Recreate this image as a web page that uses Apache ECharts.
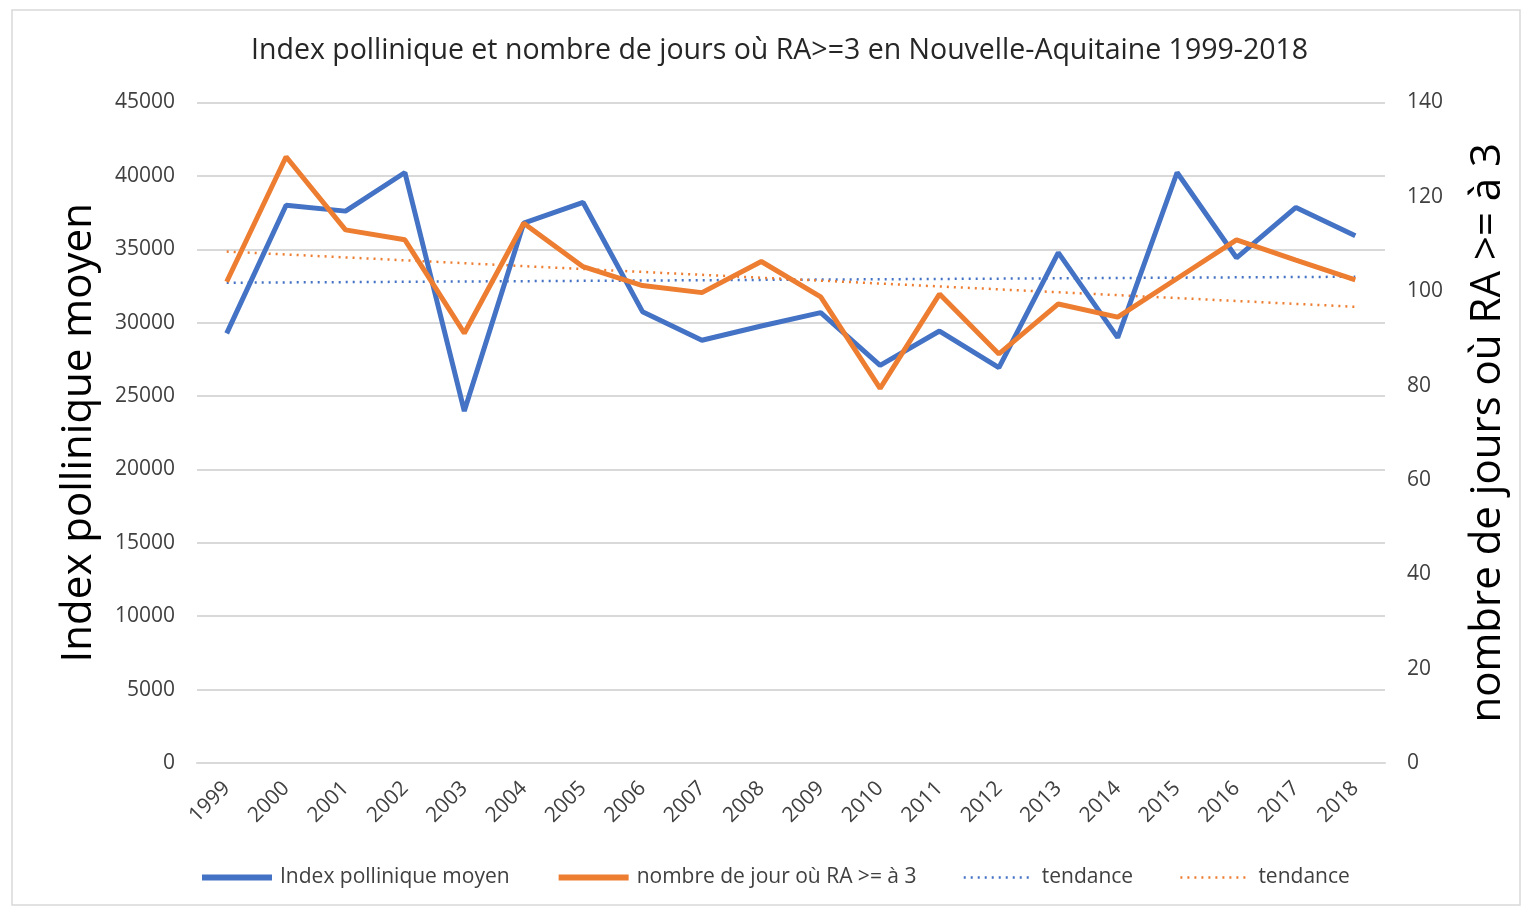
<!DOCTYPE html>
<html>
<head>
<meta charset="utf-8">
<script src="https://cdn.jsdelivr.net/npm/echarts@6/dist/echarts.min.js"></script>
<style>
  html, body { margin: 0; padding: 0; background: #fff; }
  #main { width: 1530px; height: 909px; }
</style>
</head>
<body>
<div id="main"></div>
<script>
// years on the x axis
const years = ['1999', '2000', '2001', '2002', '2003', '2004', '2005', '2006', '2007', '2008',
  '2009', '2010', '2011', '2012', '2013', '2014', '2015', '2016', '2017', '2018']
// Index pollinique moyen (left axis)
const indexPollinique = [29270, 38000, 37600, 40230, 23980, 36780, 38190, 30750, 28800, 29770,
  30680, 27090, 29430, 26930, 34770, 28980, 40230, 34420, 37850, 35920]
// nombre de jours où RA >= 3 (right axis)
const nbJours = [102.0, 128.5, 113.0, 110.9, 91.1, 114.4, 105.2, 101.2, 99.7, 106.3,
  98.8, 79.4, 99.4, 86.7, 97.3, 94.5, 102.7, 110.9, 106.6, 102.4]
// trend lines, read at both ends
const tendanceIndex = [32720, 33130]
const tendanceJours = [108.4, 96.7]

const font = 'Open Sans'

function ends(pair) {
  return years.map((y, i) => (i === 0 ? pair[0] : i === years.length - 1 ? pair[1] : null))
}

const chart = echarts.init(document.getElementById('main'))

const option = {
  animation: false,
  textStyle: { fontFamily: font },
  title: {
    text: 'Index pollinique et nombre de jours où RA>=3 en Nouvelle-Aquitaine 1999-2018',
    left: 246,
    top: 31,
    textStyle: { fontFamily: font, fontSize: 28.5, fontWeight: 'normal', color: '#262626' }
  },
  graphic: [{
    type: 'rect',
    shape: { x: 12, y: 10, width: 1508, height: 895 },
    style: { fill: 'none', stroke: '#d9d9d9', lineWidth: 1.5 },
    silent: true
  }],
  legend: {
    top: 862,
    left: 194,
    itemWidth: 70,
    itemHeight: 6,
    itemGap: 46,
    itemStyle: { opacity: 0 },
    textStyle: { fontFamily: font, fontSize: 21, color: '#404040', padding: [0, 0, 0, 3] },
    data: [
      { name: 'Index pollinique moyen', lineStyle: { width: 6 } },
      { name: 'nombre de jour où RA >= à 3', lineStyle: { width: 6 } },
      { name: 'tendance', lineStyle: { width: 2.5 } },
      { name: 'tendance ', lineStyle: { width: 2.5 } }
    ]
  },
  grid: { left: 197, right: 145, top: 102.5, bottom: 146 },
  xAxis: {
    type: 'category',
    data: years,
    boundaryGap: true,
    axisLine: { lineStyle: { color: '#d9d9d9', width: 2 } },
    axisTick: { show: false },
    axisLabel: { rotate: 45, fontSize: 21, color: '#404040', margin: 22, interval: 0 }
  },
  yAxis: [
    {
      type: 'value',
      min: 0,
      max: 45000,
      interval: 5000,
      name: 'Index pollinique moyen',
      nameLocation: 'middle',
      nameRotate: 90,
      nameGap: 97,
      nameTextStyle: { fontSize: 42, color: '#000', fontFamily: font },
      axisLine: { show: false },
      axisTick: { show: false },
      axisLabel: { fontSize: 21, color: '#404040', margin: 22, formatter: v => String(v) },
      splitLine: { lineStyle: { color: '#d9d9d9', width: 2 } }
    },
    {
      type: 'value',
      min: 0,
      max: 140,
      interval: 20,
      name: 'nombre de jours où RA >= à 3',
      nameLocation: 'middle',
      nameRotate: 90,
      nameGap: 82,
      nameTextStyle: { fontSize: 42, color: '#000', fontFamily: font },
      axisLine: { show: false },
      axisTick: { show: false },
      axisLabel: { fontSize: 21, color: '#404040', margin: 22 },
      splitLine: { show: false }
    }
  ],
  series: [
    {
      name: 'Index pollinique moyen',
      type: 'line',
      yAxisIndex: 0,
      data: indexPollinique,
      symbol: 'none',
      lineStyle: { color: '#4472C4', width: 5 },
      itemStyle: { color: '#4472C4' },
      z: 3
    },
    {
      name: 'nombre de jour où RA >= à 3',
      type: 'line',
      yAxisIndex: 1,
      data: nbJours,
      symbol: 'none',
      lineStyle: { color: '#ED7D31', width: 5 },
      itemStyle: { color: '#ED7D31' },
      z: 4
    },
    {
      name: 'tendance',
      type: 'line',
      yAxisIndex: 0,
      data: ends(tendanceIndex),
      connectNulls: true,
      symbol: 'none',
      lineStyle: { color: '#4472C4', width: 2.5, type: [2, 5] },
      itemStyle: { color: '#4472C4' },
      z: 2
    },
    {
      name: 'tendance ',
      type: 'line',
      yAxisIndex: 1,
      data: ends(tendanceJours),
      connectNulls: true,
      symbol: 'none',
      lineStyle: { color: '#ED7D31', width: 2.5, type: [2, 5] },
      itemStyle: { color: '#ED7D31' },
      z: 2
    }
  ]
}

option && chart.setOption(option)
</script>
</body>
</html>
